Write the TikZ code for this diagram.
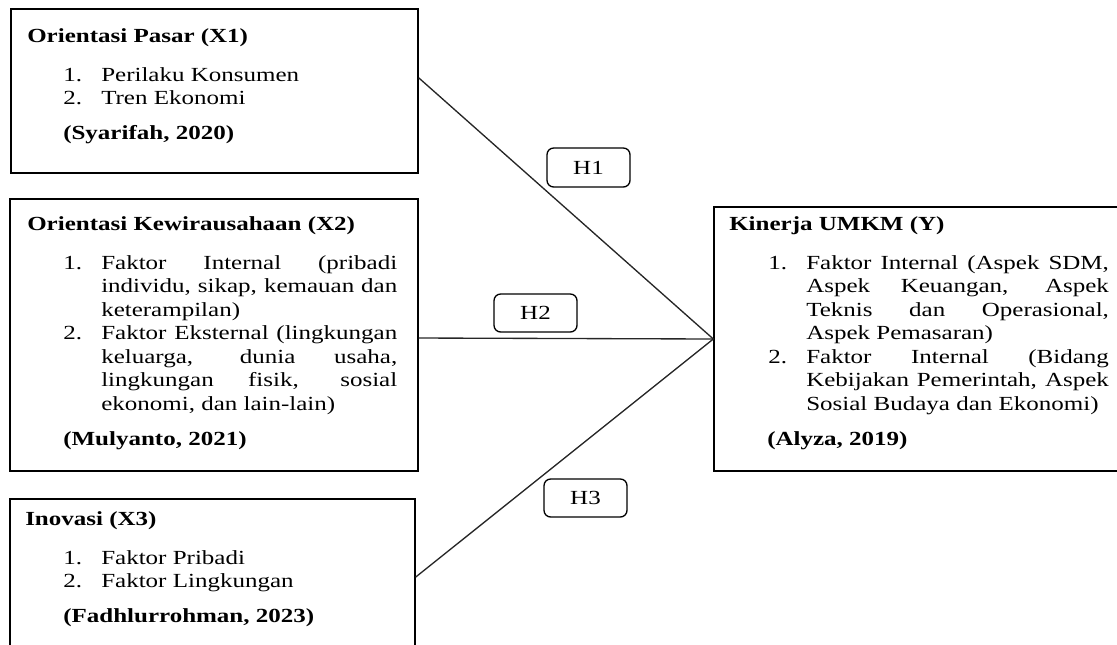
\documentclass[tikz,border=0pt]{standalone}
\usepackage{fontspec}
\setmainfont{Liberation Serif}[FakeStretch=1.25]
\usetikzlibrary{fit,calc}
\newlength\jw
\newcommand\jl[1]{\makebox[\jw][s]{#1}}
\newcommand\nb[1]{\makebox[28.5pt][l]{#1}}
\newcommand\fs{\fontsize{15pt}{17.25pt}\selectfont}
\begin{document}
\begin{tikzpicture}[x=0.75pt, y=-0.75pt,
  varbox/.style={draw=black, line width=1pt, inner sep=0pt},
  hbox/.style={draw=black, line width=1pt, rounded corners=5pt, inner sep=0pt, font=\fs},
  txt/.style={anchor=base west, inner sep=0pt, font=\fs},
  ttl/.style={anchor=base west, inner sep=0pt, font=\fs\bfseries},
  conn/.style={draw=black!85, line width=1pt}]
\useasboundingbox (0,0) rectangle (1117,644);

% ---------- boxes ----------
\node[varbox, fit={(11,9) (418,173)}] (x1) {};
\node[varbox, fit={(10,199) (418,471)}] (x2) {};
\node[varbox, fit={(10,499) (415,650)}] (x3) {};
\node[varbox, fit={(714,207) (1125,471)}] (y) {};

% ---------- X1 ----------
\node[ttl] (x1t) at (27,42) {Orientasi Pasar (X1)};
\node[txt] (x1a) at (63,81) {\nb{1.}Perilaku Konsumen};
\node[txt] (x1b) at (63,104) {\nb{2.}Tren Ekonomi};
\node[ttl] (x1c) at (63,139) {(Syarifah, 2020)};

% ---------- X2 ----------
\setlength\jw{222pt}
\node[ttl] (x2t) at (27,230) {Orientasi Kewirausahaan (X2)};
\node[txt] (x2a) at (63,269) {\nb{1.}\jl{Faktor Internal (pribadi}};
\node[txt] (x2b) at (101,292.5) {\jl{individu, sikap, kemauan dan}};
\node[txt] (x2c) at (101,316) {keterampilan)};
\node[txt] (x2d) at (63,339.5) {\nb{2.}\jl{Faktor Eksternal (lingkungan}};
\node[txt] (x2e) at (101,363) {\jl{keluarga, dunia usaha,}};
\node[txt] (x2f) at (101,386.5) {\jl{lingkungan fisik, sosial}};
\node[txt] (x2g) at (101,410) {ekonomi, dan lain-lain)};
\node[ttl] (x2c2) at (63,445) {(Mulyanto, 2021)};

% ---------- X3 ----------
\node[ttl] (x3t) at (25,525) {Inovasi (X3)};
\node[txt] (x3a) at (63,564) {\nb{1.}Faktor Pribadi};
\node[txt] (x3b) at (63,587) {\nb{2.}Faktor Lingkungan};
\node[ttl] (x3c) at (63,622) {(Fadhlurrohman, 2023)};

% ---------- Y ----------
\setlength\jw{227pt}
\node[ttl] (yt) at (729,230) {Kinerja UMKM (Y)};
\node[txt] (ya) at (768,269) {\nb{1.}\jl{Faktor Internal (Aspek SDM,}};
\node[txt] (yb) at (806,292.5) {\jl{Aspek Keuangan, Aspek}};
\node[txt] (yc) at (806,316) {\jl{Teknis dan Operasional,}};
\node[txt] (yd) at (806,339.5) {Aspek Pemasaran)};
\node[txt] (ye) at (768,363) {\nb{2.}\jl{Faktor Internal (Bidang}};
\node[txt] (yf) at (806,386.5) {\jl{Kebijakan Pemerintah, Aspek}};
\node[txt] (yg) at (806,410) {Sosial Budaya dan Ekonomi)};
\node[ttl] (yc2) at (767,445) {(Alyza, 2019)};

% ---------- connectors ----------
\coordinate (x1out) at ($(x1.north east)!0.42!(x1.south east)$);
\coordinate (x2out) at ($(x2.north east)!0.511!(x2.south east)$);
\coordinate (x3out) at ($(x3.north east)!0.517!(x3.south east)$);
\draw[conn] (x1out) -- (y.west);
\draw[conn] (x2out) -- (y.west);
\draw[conn] (x3out) -- (y.west);

% ---------- hypothesis labels ----------
\node[hbox, fit={(547,148) (630,187)}] (h1) {};
\node[font=\fs, inner sep=0pt] (h1t) at (h1.center) {H1};
\node[hbox, fit={(494,294) (577,332)}] (h2) {};
\node[font=\fs, inner sep=0pt] (h2t) at (h2.center) {H2};
\node[hbox, fit={(544,479) (627,517)}] (h3) {};
\node[font=\fs, inner sep=0pt] (h3t) at (h3.center) {H3};
\end{tikzpicture}
\end{document}
